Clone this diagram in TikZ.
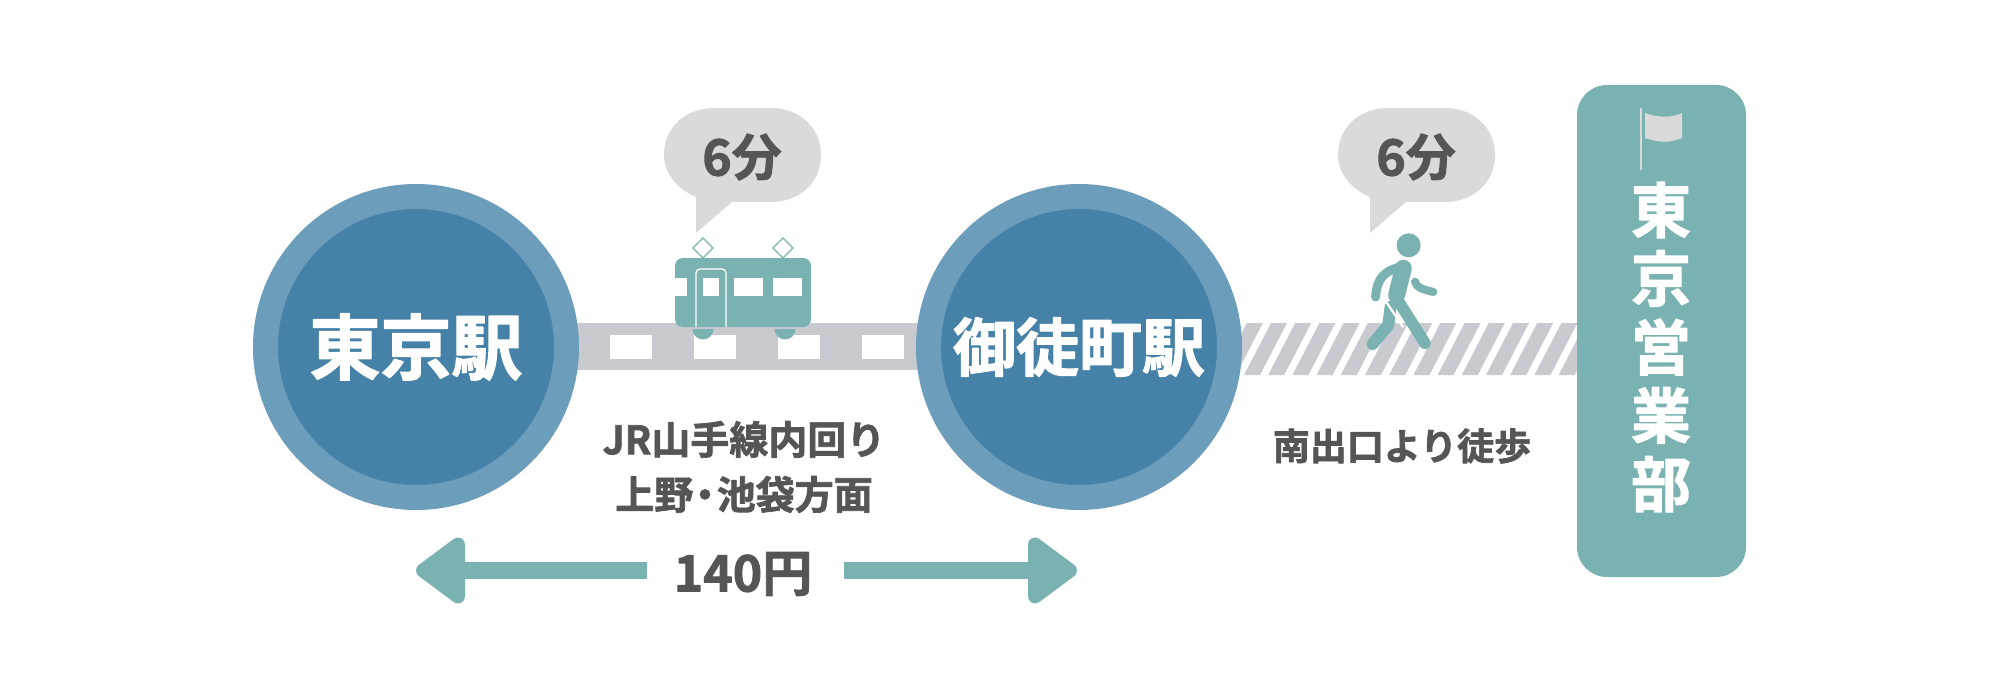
\documentclass[tikz,border=0pt]{standalone}
\usepackage{fontspec}
\setmainfont{Noto Sans CJK JP Bold}[FakeBold=1.8]
\definecolor{teal1}{HTML}{7AB2B2}
\definecolor{ringc}{HTML}{6C9DBB}
\definecolor{corec}{HTML}{4682A7}
\definecolor{trackc}{HTML}{C9CACF}
\definecolor{inkc}{HTML}{555555}
\definecolor{bubc}{HTML}{DADADA}
\tikzset{
 station/.style={circle,draw=ringc,line width=25pt,fill=corec,minimum size=301pt,inner sep=0pt},
 stationlabel/.style={text=white,inner sep=0pt},
 lab/.style={text=inkc,inner sep=0pt,align=center},
 sleeper/.style={fill=white},
 walker/.style={draw=teal1,line cap=round,line join=round},
 shaft/.style={draw=teal1,line width=17pt,line cap=butt},
 headtip/.style={draw=teal1,fill=teal1,line width=14pt,line join=round},
}
\newcommand{\bubblepath}[1]{%
 \begin{scope}[xshift=#1pt]
 \fill[bubc] (714,108) -- (771,108) .. controls (800,108) and (821,128) .. (821,155)
   .. controls (821,182) and (800,202) .. (771,202) -- (732,202) -- (696,233) -- (696,197)
   .. controls (677,189) and (664,173) .. (664,155) .. controls (664,128) and (685,108) .. (714,108) -- cycle;
 \end{scope}}
\begin{document}
\begin{tikzpicture}[x=1pt,y=-1pt]
\special{pdf:code 1 j 1 J}
\useasboundingbox (0,0) rectangle (2000,679);
\fill[white] (0,0) rectangle (2000,679);
% track
\fill[trackc] (570,323) rectangle (930,370);
\foreach \sx in {610,694,778,862}{\fill[sleeper] (\sx,335) rectangle ++(42,24);}
% hatch
\begin{scope}
\clip (1235,323) rectangle (1580,375);
\foreach \n in {-2,...,14}{
 \fill[trackc] ({1244+24.2*\n},375) -- ({1260+24.2*\n},375) -- ({1287+24.2*\n},323) -- ({1271+24.2*\n},323) -- cycle;}
\end{scope}
% stations
\node[station] (tokyo) at (416,347) {};
\node[station] (okachi) at (1079,347) {};
\node[stationlabel,font=\fontsize{71}{71}\selectfont] at (tokyo) {東京駅};
\node[stationlabel,font=\fontsize{63}{63}\selectfont] at (okachi) {御徒町駅};
% bubbles
\bubblepath{0}
\bubblepath{674}
\node[lab,font=\fontsize{50}{50}\selectfont] (t1) at (742,157) {6分};
\node[lab,font=\fontsize{50}{50}\selectfont] (t2) at (1416,157) {6分};
% train
\fill[teal1] (692.5,329) -- (713.5,329) arc[start angle=0,end angle=180,radius=10.5] -- cycle;
\fill[teal1] (774.5,329) -- (795.5,329) arc[start angle=0,end angle=180,radius=10.5] -- cycle;
\draw[teal1,line width=1.3pt,line cap=butt,line join=miter] (703,238) -- (713,248) -- (703,258) -- (693,248) -- cycle;
\draw[teal1,line width=1.3pt,line cap=butt,line join=miter] (783,238) -- (793,248) -- (783,258) -- (773,248) -- cycle;
\fill[teal1,rounded corners=8pt] (675,258) rectangle (811,327);
\fill[white] (675,278) rectangle (687,296);
\fill[white] (703,278) rectangle (719,296);
\fill[white] (734,278) rectangle (763,296);
\fill[white] (773,278) rectangle (802,296);
\draw[white,line width=1.3pt,line cap=butt,rounded corners=4pt] (696,327) -- (696,269) -- (726,269) -- (726,327);
% walker, drawn in the scale of a 3x view
\begin{scope}[shift={(1220,90)},x=0.3333pt,y=-0.3333pt]
\fill[teal1] (566,466) circle[radius=36];
\draw[walker,line width=9pt] (545,530) .. controls (500,540) and (470,560) .. (467,621);
\draw[walker,line width=8pt] (585,575) .. controls (590,595) and (610,598) .. (640,606);
\draw[walker,line width=12pt] (512,650) -- (505,705) -- (458,762);
\draw[white,line width=2.2pt,line cap=butt] (498,635) -- (550,712);
\draw[walker,line width=11.5pt] (530,625) -- (615,760);
\draw[walker,line width=17pt] (550,535) -- (530,615);
\end{scope}
% right panel
\fill[teal1,rounded corners=30pt] (1577,85) rectangle (1746,577);
\draw[bubc,line width=2.5pt,line cap=butt] (1641,108) -- (1641,170);
\fill[bubc] (1645,113) .. controls (1660,118) and (1670,118) .. (1682,113) -- (1682,138)
  .. controls (1670,143) and (1660,143) .. (1645,138) -- cycle;
\node[stationlabel,font=\fontsize{60}{68.5}\selectfont,align=center] (office) at (1661,347) {東\\京\\営\\業\\部};
% labels
\node[lab,font=\fontsize{39}{55}\selectfont] (route) at (744,467) {JR山手線内回り\\上野\kern-.2em・\kern-.2em池袋方面};
\node[lab,font=\fontsize{37}{37}\selectfont] (walk) at (1402,446) {南出口より徒歩};
\node[lab,font=\fontsize{50}{50}\selectfont] (fare) at (743,574) {140円};
% fare arrows
\coordinate (aL) at (647,570.5); \coordinate (aR) at (844,570.5);
\coordinate (hL) at (465,570.5); \coordinate (hR) at (1028,570.5);
\draw[shaft] (aL) -- (hL);
\draw[shaft] (aR) -- (hR);
\path[headtip] (458,544.5) -- (458,596.5) -- (423,570.5) -- cycle;
\path[headtip] (1035,544.5) -- (1035,596.5) -- (1070,570.5) -- cycle;
\end{tikzpicture}
\end{document}
